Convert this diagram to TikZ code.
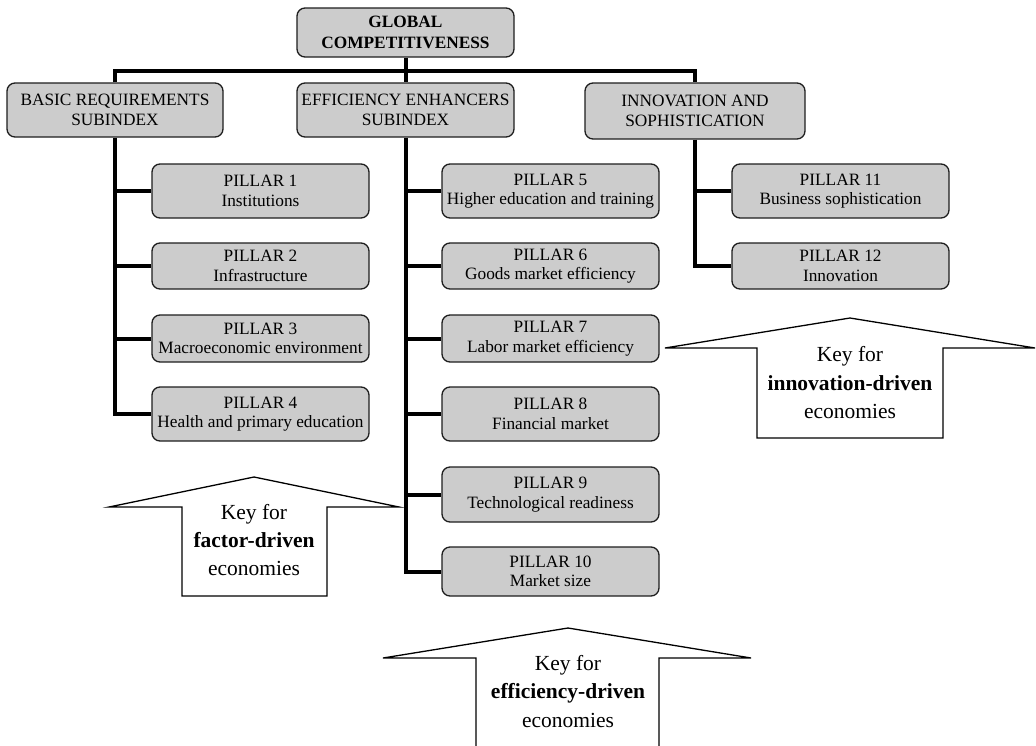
\documentclass[tikz,border=0pt]{standalone}
\usepackage{fontspec}
\setmainfont{Liberation Serif}
\definecolor{boxgray}{RGB}{204,204,204}
\definecolor{boxline}{RGB}{30,30,30}
\begin{document}
\begin{tikzpicture}[x=1pt,y=-1pt,
  box/.style={draw=boxline, line width=1.3pt, fill=boxgray, rounded corners=8pt,
    inner sep=0pt, align=center, minimum width=217pt,
    font=\fontsize{17.3}{19.5}\selectfont},
  hdr/.style={box, font=\fontsize{17.3}{20.5}\selectfont},
  conn/.style={line width=4pt, line join=miter, line cap=butt},
  keyshape/.style={draw=black, line width=1.3pt, fill=white, line join=miter},
  keytext/.style={anchor=base, inner sep=0pt, font=\fontsize{21.5}{28}\selectfont}]
\useasboundingbox[fill=white] (0,0) rectangle (1036,745);

% header boxes
\node[hdr, minimum height=49pt] (global) at (405.5,32.5) {\textbf{GLOBAL}\\\textbf{COMPETITIVENESS}};
\node[hdr, minimum width=216pt, minimum height=54pt] (basic) at (115,110) {BASIC REQUIREMENTS\\SUBINDEX};
\node[hdr, minimum height=54pt] (eff) at (405.5,110) {EFFICIENCY ENHANCERS\\SUBINDEX};
\node[hdr, minimum width=220pt, minimum height=56pt] (innov) at (695,111) {INNOVATION AND\\SOPHISTICATION};

% basic requirements pillars
\node[box, minimum height=54pt] (p1) at (260.5,191) {PILLAR 1\\Institutions};
\node[box, minimum height=46pt] (p2) at (260.5,266) {PILLAR 2\\Infrastructure};
\node[box, minimum height=47pt] (p3) at (260.5,338.5) {PILLAR 3\\Macroeconomic environment};
\node[box, minimum height=54pt] (p4) at (260.5,414) {PILLAR 4\\Health and primary education};

% efficiency pillars
\node[box, minimum height=54pt] (p5) at (550.5,191) {PILLAR 5\\Higher education and training};
\node[box, minimum height=46pt] (p6) at (550.5,266) {PILLAR 6\\Goods market efficiency};
\node[box, minimum height=47pt] (p7) at (550.5,338.5) {PILLAR 7\\Labor market efficiency};
\node[box, minimum height=54pt] (p8) at (550.5,414) {PILLAR 8\\Financial market};
\node[box, minimum height=55pt] (p9) at (550.5,494.5) {PILLAR 9\\Technological readiness};
\node[box, minimum height=49pt] (p10) at (550.5,571.5) {PILLAR 10\\Market size};

% innovation pillars
\node[box, minimum height=54pt] (p11) at (840.5,191) {PILLAR 11\\Business sophistication};
\node[box, minimum height=46pt] (p12) at (840.5,266) {PILLAR 12\\Innovation};

% connectors
\coordinate (bus) at (0,71);
\draw[conn] (basic.north) -- (basic.north |- bus) -- (innov.north |- bus) -- (innov.north);
\draw[conn] (global.south) -- (eff.north);

\draw[conn] (basic.south) |- (p4.west);
\foreach \p in {p1,p2,p3} \draw[conn] (basic.south |- \p.west) -- (\p.west);

\draw[conn] (eff.south) |- (p10.west);
\foreach \p in {p5,p6,p7,p8,p9} \draw[conn] (eff.south |- \p.west) -- (\p.west);

\draw[conn] (innov.south) |- (p12.west);
\draw[conn] (innov.south |- p11.west) -- (p11.west);

% key arrows
\draw[keyshape] (182,596) -- (182,507) -- (109,507) -- (254,477) -- (399,507) -- (327,507) -- (327,596) -- cycle;
\node[keytext] (fk1) at (254,519) {Key for};
\node[keytext] (fk2) at (254,547) {\textbf{factor-driven}};
\node[keytext] (fk3) at (254,575) {economies};

\draw[keyshape] (757,438) -- (757,348) -- (665,348) -- (850,318) -- (1035,348) -- (943,348) -- (943,438) -- cycle;
\node[keytext] (ik1) at (850,361) {Key for};
\node[keytext] (ik2) at (850,390) {\textbf{innovation-driven}};
\node[keytext] (ik3) at (850,418) {economies};

\fill[white] (476,746) -- (476,658) -- (383,658) -- (568,628) -- (751,658) -- (659,658) -- (659,746) -- cycle;
\draw[keyshape, fill=none] (476,746) -- (476,658) -- (383,658) -- (568,628) -- (751,658) -- (659,658) -- (659,746);
\node[keytext] (ek1) at (568,670) {Key for};
\node[keytext] (ek2) at (568,698) {\textbf{efficiency-driven}};
\node[keytext] (ek3) at (568,727) {economies};
\end{tikzpicture}
\end{document}
